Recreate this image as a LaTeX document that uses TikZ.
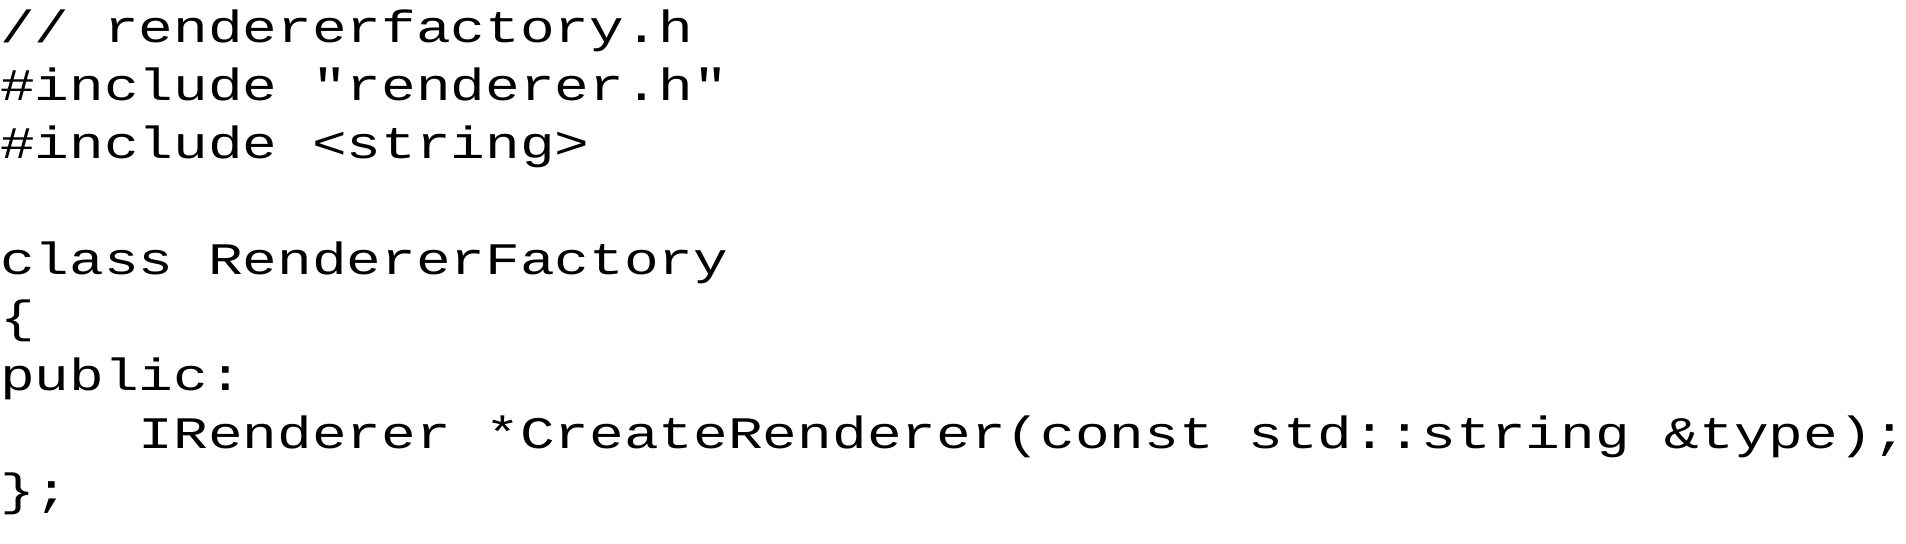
\documentclass[tikz,border=0pt]{standalone}
\usepackage{fontspec}
\usepackage{graphicx}
\newfontfamily\codefont{Liberation Mono}
\newcommand{\codetext}[1]{\scalebox{1}[0.78]{#1}}
\begin{document}
\begin{tikzpicture}[x=1pt,y=1pt,
  codeline/.style={anchor=base west,inner sep=0pt,outer sep=0pt,
    font=\codefont\fontsize{28.9pt}{28.9pt}\selectfont}]
\useasboundingbox (0,0) rectangle (953,-272);
\def\lh{28.93}
\node[codeline] (l1) at (0,-21.5) {\codetext{// rendererfactory.h}};
\node[codeline] (l2) at (0,-21.5-1*\lh) {\codetext{\#include "renderer.h"}};
\node[codeline] (l3) at (0,-21.5-2*\lh) {\codetext{\#include <string>}};
\node[codeline] (l5) at (0,-21.5-4*\lh) {\codetext{class RendererFactory}};
\node[codeline] (l6) at (0,-21.5-5*\lh) {\codetext{\{}};
\node[codeline] (l7) at (0,-21.5-6*\lh) {\codetext{public:}};
\node[codeline] (l8) at (0,-21.5-7*\lh) {\codetext{\ \ \ \ IRenderer *CreateRenderer(const std::string \&type);}};
\node[codeline] (l9) at (0,-21.5-8*\lh) {\codetext{\};}};
\end{tikzpicture}
\end{document}
